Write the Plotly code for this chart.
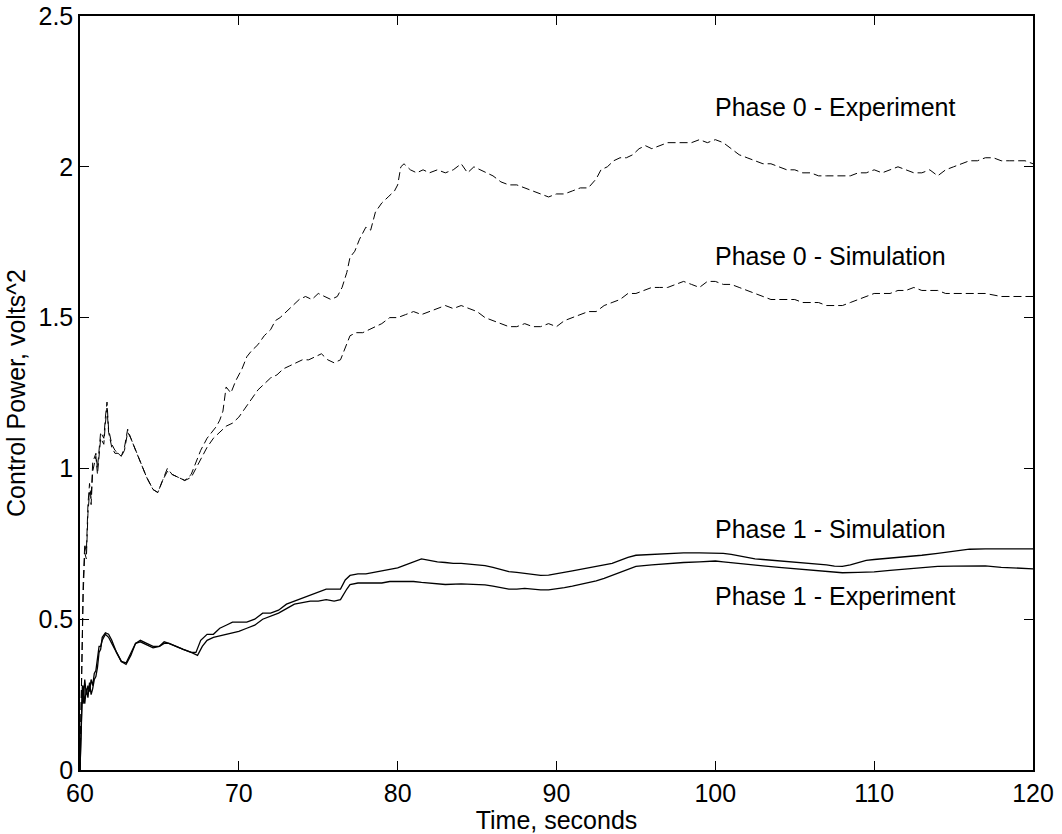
import plotly.graph_objects as go

# Phase 0 - Experiment (dashed)
p0e_x = [60.0, 60.1, 60.2, 60.3, 60.4, 60.5, 60.6, 60.7, 60.8, 61.0, 61.1, 61.3, 61.5, 61.6, 61.7, 61.8,
         62.0, 62.2, 62.4, 62.6, 62.8, 63.0, 63.2, 63.5, 63.8, 64.2, 64.6, 64.9, 65.2, 65.5, 65.8, 66.2,
         66.6, 67.0, 67.3, 67.6, 68.0, 68.3, 68.6, 68.8, 69.0, 69.2, 69.5, 69.8, 70.2, 70.5, 70.8, 71.2,
         71.6, 72.0, 72.3, 72.6, 73.0, 73.4, 73.8, 74.2, 74.6, 75.0, 75.4, 75.8, 76.2, 76.5, 76.8, 77.0,
         77.3, 77.6, 78.0, 78.3, 78.6, 79.0, 79.4, 79.8, 80.0, 80.2, 80.4, 80.8, 81.2, 81.6, 82.0, 82.5,
         83.0, 83.5, 84.0, 84.4, 84.8, 85.2, 85.6, 86.0, 86.5, 87.0, 87.5, 88.0, 88.5, 89.0, 89.5, 90.0,
         90.5, 91.0, 91.5, 92.0, 92.5, 92.8, 93.2, 93.6, 94.0, 94.4, 94.8, 95.2, 95.6, 96.0, 96.5, 97.0,
         97.5, 98.0, 98.5, 99.0, 99.5, 100.0, 100.5, 101.0, 101.5, 102.0, 102.5, 103.0, 103.5, 104.0,
         104.5, 105.0, 105.5, 106.0, 106.5, 107.0, 107.5, 108.0, 108.5, 109.0, 109.5, 110.0, 110.5, 111.0,
         111.5, 112.0, 112.5, 113.0, 113.5, 114.0, 114.5, 115.0, 115.5, 116.0, 116.5, 117.0, 117.5, 118.0,
         118.5, 119.0, 119.5, 120.0]
p0e_y = [0.0, 0.35, 0.62, 0.75, 0.72, 0.88, 0.95, 0.9, 1.02, 1.05, 1.0, 1.12, 1.1, 1.17, 1.22, 1.13,
         1.08, 1.06, 1.05, 1.04, 1.07, 1.13, 1.1, 1.06, 1.02, 0.97, 0.93, 0.92, 0.96, 1.0, 0.98, 0.97,
         0.96, 0.98, 1.02, 1.06, 1.1, 1.12, 1.14, 1.16, 1.19, 1.27, 1.25, 1.29, 1.33, 1.37, 1.39, 1.41,
         1.44, 1.46, 1.49, 1.5, 1.52, 1.54, 1.56, 1.57, 1.56, 1.58, 1.57, 1.56, 1.57, 1.6, 1.65, 1.70,
         1.72, 1.76, 1.80, 1.79, 1.85, 1.88, 1.9, 1.92, 1.94, 2.0, 2.01, 1.99, 1.98, 1.99, 1.98, 1.99,
         1.98, 1.99, 2.01, 1.98, 2.0, 1.99, 1.98, 1.97, 1.95, 1.94, 1.94, 1.93, 1.92, 1.91, 1.90, 1.91,
         1.91, 1.92, 1.93, 1.93, 1.96, 1.99, 2.0, 2.02, 2.03, 2.03, 2.04, 2.06, 2.07, 2.06, 2.07, 2.08,
         2.08, 2.08, 2.08, 2.09, 2.08, 2.09, 2.08, 2.06, 2.04, 2.03, 2.02, 2.01, 2.01, 2.0,
         1.99, 1.99, 1.98, 1.98, 1.97, 1.97, 1.97, 1.97, 1.97, 1.98, 1.98, 1.99, 1.98, 1.99,
         2.0, 1.99, 1.98, 1.98, 1.99, 1.97, 1.99, 2.0, 2.01, 2.02, 2.02, 2.03, 2.03, 2.02,
         2.02, 2.02, 2.02, 2.01]

# Phase 0 - Simulation (dashed)
p0s_x = [60.0, 60.1, 60.2, 60.3, 60.4, 60.5, 60.6, 60.7, 60.8, 61.0, 61.1, 61.3, 61.5, 61.6, 61.7, 61.8,
         62.0, 62.2, 62.4, 62.6, 62.8, 63.0, 63.2, 63.5, 63.8, 64.2, 64.6, 64.9, 65.2, 65.5, 65.8, 66.2,
         66.6, 67.0, 67.3, 67.6, 68.0, 68.4, 68.8, 69.2, 69.6, 70.0, 70.4, 70.8, 71.2, 71.6, 72.0, 72.4,
         72.8, 73.2, 73.6, 74.0, 74.4, 74.8, 75.2, 75.6, 76.0, 76.4, 76.7, 77.0, 77.4, 77.8, 78.2, 78.6,
         79.0, 79.5, 80.0, 80.5, 81.0, 81.5, 82.0, 82.5, 83.0, 83.5, 84.0, 84.5, 85.0, 85.5, 86.0, 86.5,
         87.0, 87.5, 88.0, 88.5, 89.0, 89.5, 90.0, 90.5, 91.0, 91.5, 92.0, 92.5, 93.0, 93.5, 94.0, 94.5,
         95.0, 95.5, 96.0, 96.5, 97.0, 97.5, 98.0, 98.5, 99.0, 99.5, 100.0, 100.5, 101.0, 101.5, 102.0,
         102.5, 103.0, 103.5, 104.0, 104.5, 105.0, 105.5, 106.0, 106.5, 107.0, 107.5, 108.0, 108.5, 109.0,
         109.5, 110.0, 110.5, 111.0, 111.5, 112.0, 112.5, 113.0, 113.5, 114.0, 114.5, 115.0, 115.5, 116.0,
         117.0, 118.0, 119.0, 120.0]
p0s_y = [0.0, 0.3, 0.58, 0.72, 0.7, 0.85, 0.92, 0.88, 0.99, 1.04, 0.98, 1.1, 1.08, 1.15, 1.2, 1.12,
         1.07, 1.05, 1.05, 1.04, 1.06, 1.12, 1.1, 1.06, 1.02, 0.97, 0.93, 0.92, 0.96, 0.99, 0.98, 0.97,
         0.96, 0.97, 1.0, 1.03, 1.07, 1.1, 1.12, 1.14, 1.15, 1.17, 1.2, 1.23, 1.26, 1.28, 1.3, 1.31,
         1.33, 1.34, 1.35, 1.36, 1.36, 1.37, 1.38, 1.36, 1.35, 1.36, 1.4, 1.44, 1.45, 1.45, 1.46, 1.47,
         1.48, 1.5, 1.5, 1.51, 1.52, 1.51, 1.52, 1.53, 1.54, 1.53, 1.54, 1.53, 1.52, 1.5, 1.49, 1.48,
         1.47, 1.47, 1.48, 1.47, 1.47, 1.48, 1.47, 1.49, 1.5, 1.51, 1.52, 1.52, 1.54, 1.55, 1.56, 1.58,
         1.58, 1.59, 1.6, 1.6, 1.6, 1.61, 1.62, 1.61, 1.6, 1.62, 1.62, 1.61, 1.61, 1.6, 1.59,
         1.58, 1.57, 1.56, 1.56, 1.56, 1.56, 1.55, 1.55, 1.55, 1.54, 1.54, 1.54, 1.55, 1.56,
         1.57, 1.58, 1.58, 1.58, 1.59, 1.59, 1.6, 1.59, 1.59, 1.59, 1.58, 1.58, 1.58, 1.58,
         1.58, 1.57, 1.57, 1.57]

# Phase 1 - Simulation (solid)
p1s_x = [60.0, 60.05, 60.1, 60.15, 60.2, 60.3, 60.4, 60.5, 60.6, 60.7, 60.8, 60.9, 61.0, 61.1, 61.2, 61.3,
         61.4, 61.6, 61.8, 62.0, 62.3, 62.6, 62.9, 63.2, 63.5, 63.8, 64.2, 64.6, 65.0, 65.3, 65.6, 66.0,
         66.5, 67.0, 67.3, 67.6, 68.0, 68.4, 68.8, 69.2, 69.6, 70.0, 70.5, 71.0, 71.5, 72.0, 72.5, 73.0,
         73.5, 74.0, 74.5, 75.0, 75.5, 76.0, 76.4, 76.7, 77.0, 77.5, 78.0, 78.5, 79.0, 79.5, 80.0, 80.5,
         81.0, 81.5, 82.0, 82.5, 83.0, 83.5, 84.0, 84.5, 85.0, 85.5, 86.0, 86.5, 87.0, 87.5, 88.0, 88.5,
         89.0, 89.5, 90.0, 90.5, 91.0, 91.5, 92.0, 92.5, 93.0, 93.5, 94.0, 94.5, 95.0, 96.0, 97.0, 98.0,
         99.0, 100.0, 100.5, 101.0, 101.5, 102.0, 102.5, 103.0, 104.0, 105.0, 106.0, 107.0, 107.5, 108.0,
         108.5, 109.0, 109.5, 110.0, 111.0, 112.0, 113.0, 114.0, 115.0, 115.5, 116.0, 117.0, 118.0, 119.0,
         120.0]
p1s_y = [0.0, 0.12, 0.25, 0.28, 0.22, 0.3, 0.25, 0.28, 0.26, 0.3, 0.28, 0.32, 0.33, 0.37, 0.41, 0.41,
         0.43, 0.45, 0.44, 0.42, 0.39, 0.36, 0.35, 0.38, 0.42, 0.43, 0.42, 0.41, 0.41, 0.42, 0.42, 0.41,
         0.40, 0.39, 0.39, 0.43, 0.45, 0.45, 0.47, 0.48, 0.49, 0.49, 0.49, 0.5, 0.52, 0.52, 0.53, 0.55,
         0.56, 0.57, 0.58, 0.59, 0.6, 0.6, 0.6, 0.63, 0.645, 0.65, 0.65, 0.655, 0.66, 0.665, 0.67, 0.68,
         0.69, 0.7, 0.695, 0.69, 0.688, 0.685, 0.685, 0.683, 0.68, 0.678, 0.672, 0.665, 0.658, 0.655, 0.652, 0.648,
         0.645, 0.646, 0.65, 0.654, 0.66, 0.665, 0.67, 0.675, 0.678, 0.685, 0.695, 0.705, 0.712, 0.715, 0.718, 0.72,
         0.72, 0.72, 0.718, 0.715, 0.71, 0.705, 0.7, 0.698, 0.694, 0.69, 0.685, 0.68, 0.676, 0.675,
         0.68, 0.688, 0.695, 0.698, 0.702, 0.707, 0.712, 0.718, 0.725, 0.73, 0.732, 0.733, 0.733, 0.733,
         0.733]

# Phase 1 - Experiment (solid)
p1e_x = [60.0, 60.05, 60.1, 60.15, 60.2, 60.3, 60.4, 60.5, 60.6, 60.7, 60.8, 60.9, 61.0, 61.1, 61.2, 61.3,
         61.4, 61.6, 61.8, 62.0, 62.3, 62.6, 62.9, 63.2, 63.5, 63.8, 64.2, 64.6, 65.0, 65.3, 65.6, 66.0,
         66.5, 67.0, 67.4, 67.7, 68.0, 68.4, 68.8, 69.2, 69.6, 70.0, 70.5, 71.0, 71.5, 72.0, 72.5, 73.0,
         73.5, 74.0, 74.5, 75.0, 75.5, 76.0, 76.4, 76.8, 77.0, 77.5, 78.0, 78.5, 79.0, 79.5, 80.0, 80.5,
         81.0, 81.5, 82.0, 82.5, 83.0, 84.0, 85.0, 85.5, 86.0, 86.5, 87.0, 87.5, 88.0, 88.5, 89.0, 89.5,
         90.0, 90.5, 91.0, 91.5, 92.0, 92.5, 93.0, 93.5, 94.0, 94.5, 95.0, 96.0, 97.0, 98.0, 99.0, 100.0,
         100.5, 101.0, 102.0, 103.0, 104.0, 105.0, 106.0, 107.0, 108.0, 109.0, 110.0, 111.0, 112.0, 113.0,
         114.0, 115.0, 116.0, 117.0, 118.0, 119.0, 120.0]
p1e_y = [0.0, 0.1, 0.2, 0.26, 0.28, 0.22, 0.27, 0.24, 0.29, 0.25, 0.27, 0.3, 0.31, 0.34, 0.39, 0.4,
         0.44, 0.455, 0.45, 0.43, 0.39, 0.36, 0.355, 0.39, 0.42, 0.425, 0.415, 0.405, 0.41, 0.425, 0.42, 0.41,
         0.4, 0.39, 0.38, 0.41, 0.43, 0.44, 0.445, 0.45, 0.455, 0.46, 0.47, 0.48, 0.5, 0.51, 0.52, 0.535,
         0.55, 0.555, 0.56, 0.56, 0.565, 0.56, 0.565, 0.6, 0.615, 0.62, 0.62, 0.622, 0.62, 0.625, 0.625, 0.627,
         0.625, 0.622, 0.62, 0.617, 0.615, 0.617, 0.615, 0.614, 0.61, 0.605, 0.6, 0.6, 0.602, 0.6, 0.597, 0.597,
         0.6, 0.605, 0.61, 0.615, 0.62, 0.627, 0.635, 0.645, 0.655, 0.665, 0.675, 0.68, 0.685, 0.688, 0.69, 0.693,
         0.69, 0.687, 0.682, 0.677, 0.672, 0.667, 0.662, 0.657, 0.654, 0.655, 0.657, 0.662, 0.667, 0.672,
         0.675, 0.676, 0.677, 0.677, 0.672, 0.669, 0.667]

label_text = ["Phase 0 - Experiment", "Phase 0 - Simulation", "Phase 1 - Simulation", "Phase 1 - Experiment"]
label_x = [100.05, 100.05, 100.05, 100.05]
label_y = [2.198, 1.703, 0.80, 0.578]

x_ticks = [60, 70, 80, 90, 100, 110, 120]
y_ticks = [0, 0.5, 1, 1.5, 2, 2.5]
y_tick_text = ["0", "0.5", "1", "1.5", "2", "2.5"]

FONT = "Liberation Sans, Arial, sans-serif"
FS = 25

fig = go.Figure()
dash_style = dict(color="black", width=1, dash="8px,4px")
solid_style = dict(color="black", width=1.3)
fig.add_trace(go.Scatter(x=p0e_x, y=p0e_y, mode="lines", line=dash_style, showlegend=False))
fig.add_trace(go.Scatter(x=p0s_x, y=p0s_y, mode="lines", line=dash_style, showlegend=False))
fig.add_trace(go.Scatter(x=p1s_x, y=p1s_y, mode="lines", line=solid_style, showlegend=False))
fig.add_trace(go.Scatter(x=p1e_x, y=p1e_y, mode="lines", line=solid_style, showlegend=False))

for t, xx, yy in zip(label_text, label_x, label_y):
    fig.add_annotation(x=xx, y=yy, text=t, showarrow=False, xanchor="left", yanchor="middle",
                       xshift=-3, font=dict(family=FONT, size=FS, color="black"))

axis_common = dict(showgrid=False, zeroline=False, showline=True, linecolor="black", linewidth=1.5,
                   mirror="ticks", ticks="inside", ticklen=9, tickwidth=1, tickcolor="black",
                   automargin=False, tickfont=dict(family=FONT, size=FS, color="black"))
fig.update_xaxes(range=[60, 120], tickvals=x_ticks, ticktext=[str(v) for v in x_ticks],
                 title=dict(text="Time, seconds", font=dict(family=FONT, size=FS, color="black"), standoff=0),
                 **axis_common)
fig.update_yaxes(range=[0, 2.5], tickvals=y_ticks, ticktext=y_tick_text,
                 title=dict(text="Control Power, volts^2", font=dict(family=FONT, size=FS, color="black"), standoff=6),
                 **axis_common)
fig.update_layout(width=1062, height=834, margin=dict(l=80, r=29, t=16, b=64),
                  plot_bgcolor="white", paper_bgcolor="white", font=dict(family=FONT))
fig.write_html("out.html")
